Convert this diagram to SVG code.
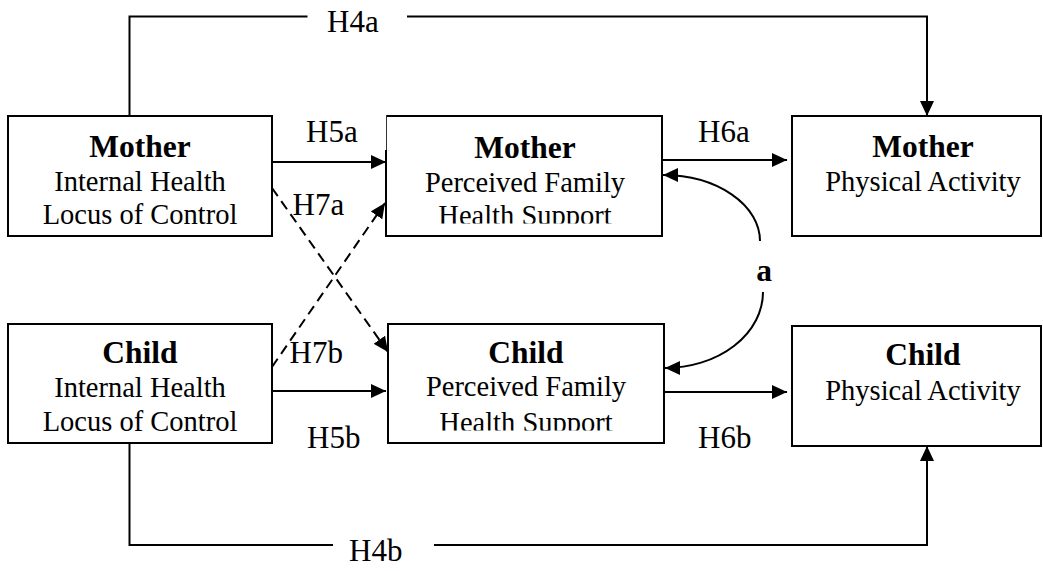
<svg xmlns="http://www.w3.org/2000/svg" width="1043" height="571" viewBox="0 0 1043 571" font-family="'Liberation Serif', serif">
<style>
text{font-family:'Liberation Serif', 'Times New Roman', serif}
.box{fill:#fff;stroke:#000;stroke-width:2}
.t{font-size:28.5px;fill:#000;text-anchor:middle}
.b{font-size:31.5px;font-weight:bold;fill:#000;text-anchor:middle}
.lbl{font-size:31px;fill:#000}
.ln{fill:none;stroke:#000;stroke-width:2}
.dash{stroke-dasharray:10 6}
</style>
<defs>
<marker id="ah" markerUnits="userSpaceOnUse" markerWidth="15" markerHeight="14" refX="15" refY="7" orient="auto" viewBox="0 0 15 14">
<path d="M0,0 L15,7 L0,14 z" fill="#000"/>
</marker>
<clipPath id="clipM"><rect x="386" y="116" width="276" height="107.5"/></clipPath>
<clipPath id="clipC"><rect x="388" y="324" width="276" height="106.5"/></clipPath>
</defs>
<rect width="1043" height="571" fill="#fff"/>

<g id="mother-ihlc">
<rect class="box" x="8" y="116" width="264" height="120"/>
<text class="b" x="140" y="157">Mother</text>
<text class="t" x="140" y="191">Internal Health</text>
<text class="t" x="140" y="224">Locus of Control</text>
</g>
<g id="mother-pfhs">
<rect class="box" x="386" y="116" width="276" height="120"/>
<text class="b" x="525" y="158">Mother</text>
<text class="t" x="525" y="192">Perceived Family</text>
<text class="t" x="525" y="225" clip-path="url(#clipM)">Health Support</text>
</g>
<g id="mother-pa">
<rect class="box" x="792" y="116" width="249" height="120"/>
<text class="b" x="923" y="157">Mother</text>
<text class="t" x="923" y="191">Physical Activity</text>
</g>
<g id="child-ihlc">
<rect class="box" x="8" y="324" width="264" height="119"/>
<text class="b" x="140" y="363">Child</text>
<text class="t" x="140" y="397">Internal Health</text>
<text class="t" x="140" y="431">Locus of Control</text>
</g>
<g id="child-pfhs">
<rect class="box" x="388" y="324" width="276" height="119"/>
<text class="b" x="526" y="363">Child</text>
<text class="t" x="526" y="396">Perceived Family</text>
<text class="t" x="526" y="432" clip-path="url(#clipC)">Health Support</text>
</g>
<g id="child-pa">
<rect class="box" x="792" y="326" width="249" height="120"/>
<text class="b" x="923" y="365">Child</text>
<text class="t" x="923" y="400">Physical Activity</text>
</g>

<g id="connectors">
<path class="ln" d="M129.5,116 V16.5 H307.5"/>
<path class="ln" d="M407,16.5 H927 V116" marker-end="url(#ah)"/>
<path class="ln" d="M129.5,443 V545 H333"/>
<path class="ln" d="M434,545 H927 V446" marker-end="url(#ah)"/>
<path class="ln" d="M273,162 H386" marker-end="url(#ah)"/>
<path class="ln" d="M662,160 H787" marker-end="url(#ah)"/>
<path class="ln" d="M273,391 H386" marker-end="url(#ah)"/>
<path class="ln" d="M665,392 H787" marker-end="url(#ah)"/>
<path class="ln dash" d="M272,188 L388,352" marker-end="url(#ah)"/>
<path class="ln dash" d="M272,367 L385,203" marker-end="url(#ah)"/>
<path class="ln" d="M760,241 A97,66 0 0 0 663,175" marker-end="url(#ah)"/>
<path class="ln" d="M763,292 A98,76 0 0 1 665,368" marker-end="url(#ah)"/>
</g>

<g id="labels">
<rect x="300" y="104" width="86.2" height="46" fill="#fff"/>
<text class="lbl" x="327" y="32">H4a</text>
<text class="lbl" x="306" y="141.5">H5a</text>
<text class="lbl" x="698" y="141.5">H6a</text>
<text class="lbl" x="292.5" y="215">H7a</text>
<text class="lbl" x="289.5" y="362.5">H7b</text>
<text class="lbl" x="307" y="448">H5b</text>
<text class="lbl" x="698" y="448">H6b</text>
<text class="lbl" x="349" y="561">H4b</text>
<text class="b" x="764" y="281">a</text>
</g>
</svg>
